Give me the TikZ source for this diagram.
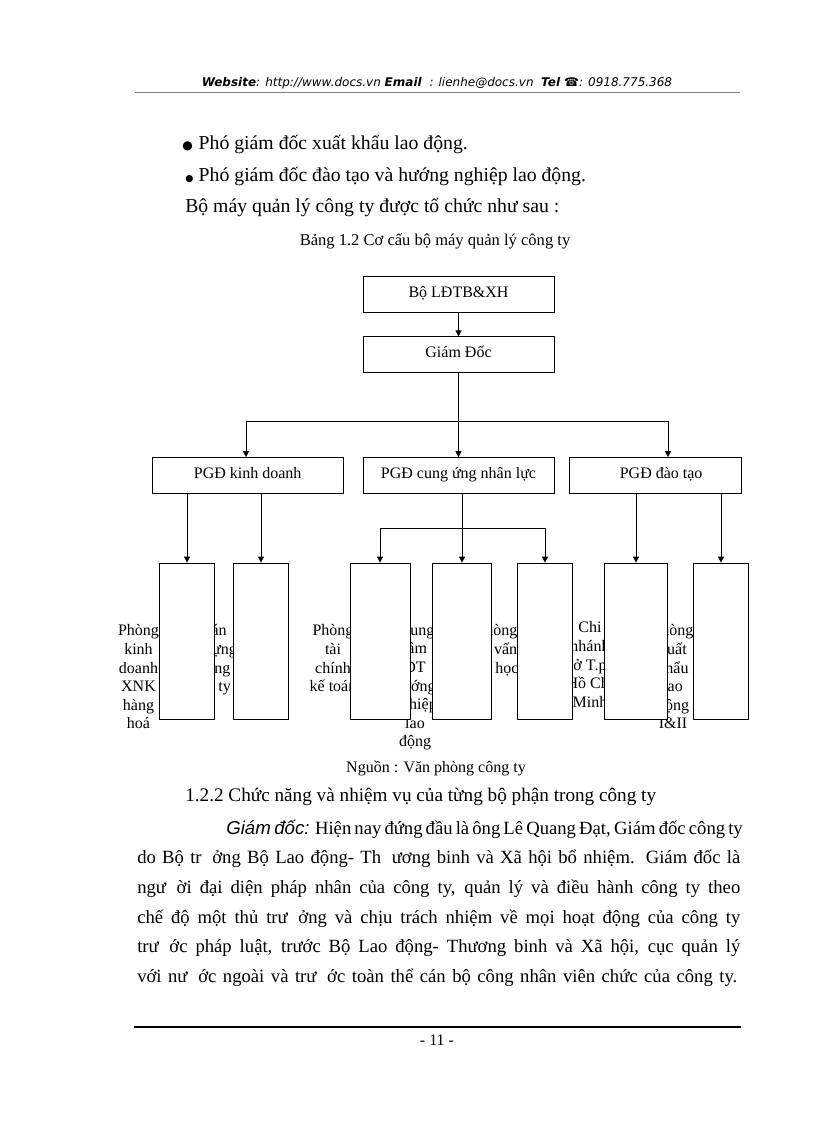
\documentclass[tikz,border=0pt]{standalone}
\usepackage{fontspec}
\setmainfont{Liberation Serif}
\newfontfamily\webfont{DejaVu Sans}
\newfontfamily\leadfont{Liberation Sans}
\usetikzlibrary{arrows.meta,positioning}
\tikzset{unit/.style={
    draw,
    fill=white,
    line width=0.6pt,
    minimum height=27pt,
    minimum width=143.25pt,
    text height=8pt,
    text depth=3.5pt,
    font=\fontsize{12}{14}\selectfont,
}}
\tikzset{dept/.style={
    draw,
    fill=white,
    line width=0.6pt,
    minimum height=117pt,
    inner sep=0pt,
}}
\tikzset{deptlabel/.style={
    align=center,
    anchor=north,
    inner sep=0pt,
    font=\fontsize{12}{13.95}\selectfont,
}}
\tikzset{arrow/.style={
    -{Triangle[length=4.5pt,width=4.5pt]},
    line width=0.6pt,
}}
\tikzset{link/.style={
    line width=0.6pt,
}}
\tikzset{bodyline/.style={
    anchor=base west,
    inner sep=0pt,
    font=\fontsize{14}{16}\selectfont,
}}
\tikzset{bigline/.style={
    bodyline,
    font=\fontsize{14.8}{16}\selectfont,
}}
\tikzset{smallline/.style={
    anchor=base,
    inner sep=0pt,
    font=\fontsize{12}{14}\selectfont,
}}
\newcommand\skipgap{\hspace{8pt}}

\begin{document}
\begin{tikzpicture}[x=0.75pt,y=-0.75pt]
            \fill[white] (0,0) rectangle (816,1123);
            \useasboundingbox (0,0) rectangle (816,1123);

            % page header
            \node[inner sep=0pt, font=\webfont\fontsize{9}{11}\selectfont] (web) at (437,83)
                {\textbf{\textit{Website}}\textit{: http://www.docs.vn} \textbf{\textit{Email}} \textit{ : lienhe@docs.vn} \ \textbf{\textit{Tel}} ☎\textit{: 0918.775.368}};
            \draw[gray, line width=0.5pt] (135,92) -- (740,92);

            \node[bigline] (bullet1) at (182,150) {{\webfont\fontsize{9}{9}\selectfont ●}\hspace{4.5pt}Phó giám đốc xuất khẩu lao động.};
            \node[bigline] (bullet2) at (185,181.5) {{\webfont\fontsize{7}{7}\selectfont ●}\hspace{4pt}Phó giám đốc đào tạo và hướng nghiệp lao động.};
            \node[bigline] (intro) at (185,212.5) {Bộ máy quản lý công ty được tổ chức như sau :};
            \node[smallline, font=\fontsize{12.4}{14}\selectfont] (caption) at (435,245.5) {Bảng 1.2 Cơ cấu bộ máy quản lý công ty};

            % chart
            \node[unit] (bo) at (458.5,294) {Bộ LĐTB\&XH};
            \node[unit, below=18pt of bo] (gd) {Giám Đốc};
            \node[unit, below=63pt of gd] (pgdcu) {PGĐ cung ứng nhân lực};
            \node[unit, left=14.25pt of pgdcu] (pgdkd) {PGĐ kinh doanh};
            \node[unit, minimum width=129pt, right=11.25pt of pgdcu] (pgddt) {\hspace{8pt}PGĐ đào tạo};

            \node[deptlabel] (lab1) at (138.5,624.5) {Phòng\\kinh\\doanh\\XNK\\hàng\\hoá};
            \node[deptlabel] (lab2) at (207,624.5) {Dự án\\xây dựng\\hạ tầng\\công ty};
            \node[deptlabel] (lab3) at (333,624.5) {Phòng\\tài\\chính\\kế toán};
            \node[deptlabel] (lab4) at (415,624.5) {Trung\\tâm\\ĐT\\hướng\\nghiệp\\lao\\động};
            \node[deptlabel] (lab5) at (497,624.5) {Phòng\\tư vấn\\du học};
            \node[deptlabel] (lab6) at (590,621.5) {Chi\\nhánh\\ở T.p\\Hồ Chí\\Minh};
            \node[deptlabel] (lab7) at (673,624.5) {Phòng\\xuất\\khẩu\\lao\\động\\I\&II};

            \node[dept, minimum width=41.25pt] (d1) at (187,641) {};
            \node[dept, minimum width=41.25pt] (d2) at (261,641) {};
            \node[dept, minimum width=45pt] (d3) at (380,641) {};
            \node[dept, minimum width=44.25pt] (d4) at (462,641) {};
            \node[dept, minimum width=41.25pt] (d5) at (545,641) {};
            \node[dept, minimum width=47.25pt] (d6) at (636,641) {};
            \node[dept, minimum width=41.25pt] (d7) at (721,641) {};

            \coordinate (hub) at (458.5,421);
            \coordinate (hubL) at (246,421);
            \coordinate (hubR) at (668,421);
            \coordinate (cuhub) at (462,528);

            \draw[arrow] (bo.south) -- (gd.north);
            \draw[link] (gd.south) -- (hub);
            \draw[link] (hubL) -- (hubR);
            \draw[arrow] (hubL) -- (hubL |- pgdkd.north);
            \draw[arrow] (hub) -- (pgdcu.north);
            \draw[arrow] (hubR) -- (hubR |- pgddt.north);

            \draw[arrow] (pgdkd.south -| d1.north) -- (d1.north);
            \draw[arrow] (pgdkd.south -| d2.north) -- (d2.north);
            \draw[arrow] (pgdcu.south -| d4.north) -- (d4.north);
            \draw[link] (d3.north |- cuhub) -- (d5.north |- cuhub);
            \draw[arrow] (d3.north |- cuhub) -- (d3.north);
            \draw[arrow] (d5.north |- cuhub) -- (d5.north);
            \draw[arrow] (pgddt.south -| d6.north) -- (d6.north);
            \draw[arrow] (pgddt.south -| d7.north) -- (d7.north);

            \node[smallline] (source) at (436,772.5) {Nguồn : Văn phòng công ty};

            % text below the chart
            \node[bodyline, font=\fontsize{14.4}{16}\selectfont] (heading) at (185,801.5) {1.2.2 Chức năng và nhiệm vụ của từng bộ phận trong công ty};
            \node[bodyline] (para1) at (226,834) {\makebox[385.5pt][s]{{\leadfont\itshape Giám đốc:} Hiện nay đứng đầu là ông Lê Quang Đạt, Giám đốc công ty}};
            \node[bodyline] (para2) at (137,863.7) {\makebox[452.25pt][s]{do Bộ tr\skipgap ởng Bộ Lao động- Th\skipgap ương binh và Xã hội bổ nhiệm. Giám đốc là}};
            \node[bodyline] (para3) at (137,893.4) {\makebox[452.25pt][s]{ngư\skipgap ời đại diện pháp nhân của công ty, quản lý và điều hành công ty theo}};
            \node[bodyline] (para4) at (137,923.1) {\makebox[452.25pt][s]{chế độ một thủ trư\skipgap ởng và chịu trách nhiệm về mọi hoạt động của công ty}};
            \node[bodyline] (para5) at (137,952.8) {\makebox[452.25pt][s]{trư\skipgap ớc pháp luật, trước Bộ Lao động- Thương binh và Xã hội, cục quản lý}};
            \node[bodyline] (para6) at (137,982.5) {\makebox[450pt][s]{với nư\skipgap ớc ngoài và trư\skipgap ớc toàn thể cán bộ công nhân viên chức của công ty.}};

            % page footer
            \draw[line width=1.4pt] (134,1027) -- (741,1027);
            \node[smallline] (pageno) at (437,1045) {- 11 -};
        \end{tikzpicture}
\end{document}
